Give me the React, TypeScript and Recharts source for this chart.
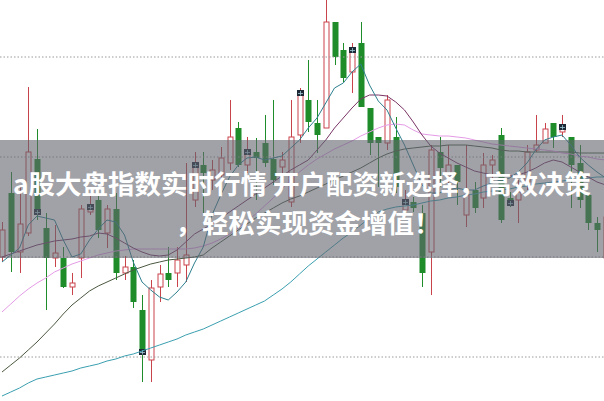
import React from 'react';
import { ComposedChart, Bar, Line, XAxis, YAxis, ReferenceLine } from 'recharts';

// candle prices, one per session
const open = [3100,3164,3105,3124,3198,3129,3099,3099,3070,3099,3145,3157,3124,3148,3084,3090,3047,2997,3070,3084,3084,3092,3157,3192,3177,3182,3194,3229,3192,3205,3214,3198,3190,3155,3222,3257,3234,3229,3335,3307,3285,3314,3249,3220,3214,3220,3147,3155,3144,3105,3205,3180,3192,3142,3167,3159,3192,3222,3159,3157,3175,3207,3214,3234,3225,3220,3194,3162,3134,3099];
const close = [3127,3105,3133,3205,3145,3099,3104,3070,3074,3148,3150,3127,3148,3084,3090,3055,3005,3069,3083,3077,3097,3102,3192,3184,3187,3199,3220,3192,3205,3199,3194,3177,3197,3220,3264,3235,3222,3335,3300,3279,3307,3250,3214,3214,3257,3170,3155,3149,3084,3207,3189,3192,3175,3162,3149,3192,3197,3137,3154,3165,3205,3212,3228,3220,3230,3192,3157,3134,3127,3140];
const high = [3135,3185,3172,3270,3228,3144,3132,3110,3084,3152,3164,3164,3152,3164,3101,3097,3062,3077,3092,3110,3110,3194,3205,3205,3197,3210,3257,3235,3220,3219,3242,3257,3205,3257,3269,3297,3257,3357,3335,3314,3314,3335,3249,3220,3262,3240,3167,3160,3152,3212,3220,3212,3192,3212,3175,3204,3202,3229,3165,3177,3212,3242,3234,3234,3242,3220,3212,3162,3140,3147];
const low = [3095,3085,3084,3121,3137,3047,3090,3069,3062,3079,3142,3119,3109,3077,3077,3049,2975,2975,3055,3070,3070,3075,3150,3144,3167,3162,3187,3190,3184,3157,3190,3172,3177,3150,3214,3225,3204,3229,3292,3275,3264,3250,3202,3170,3207,3164,3142,3145,3070,3062,3170,3172,3152,3130,3144,3149,3179,3134,3150,3134,3167,3205,3214,3209,3220,3149,3149,3127,3105,3097];

// moving averages
const ma5 = [3095,3102,3109,3132,3141,3139,3137,3117,3100,3103,3117,3128,3137,3135,3122,3095,3075,3067,3060,3057,3065,3075,3094,3110,3142,3162,3180,3192,3199,3200,3197,3199,3201,3209,3217,3229,3239,3254,3269,3274,3285,3293,3272,3256,3247,3229,3212,3192,3172,3164,3164,3167,3169,3167,3167,3171,3174,3177,3179,3185,3194,3207,3217,3220,3222,3212,3200,3192,3185,3179];
const ma10 = [3100,3103,3106,3109,3112,3114,3116,3117,3118,3120,3121,3124,3123,3119,3114,3109,3105,3102,3101,3102,3107,3115,3123,3128,3133,3139,3145,3151,3157,3163,3169,3175,3181,3187,3192,3197,3207,3217,3229,3239,3249,3258,3262,3262,3261,3255,3247,3235,3222,3211,3204,3199,3194,3190,3186,3184,3182,3181,3181,3182,3185,3189,3194,3197,3195,3190,3185,3180,3175,3172];
const ma20 = [3045,3053,3061,3068,3074,3079,3085,3089,3093,3096,3099,3102,3104,3106,3107,3108,3108,3108,3108,3108,3108,3108,3109,3111,3114,3118,3123,3129,3136,3143,3151,3159,3168,3177,3185,3192,3198,3203,3208,3212,3216,3221,3225,3229,3232,3233,3232,3227,3223,3222,3221,3221,3220,3219,3217,3215,3213,3212,3211,3210,3209,3208,3207,3206,3204,3203,3201,3200,3198,3197];
const ma30 = [2985,2992,2999,3007,3015,3024,3033,3043,3052,3059,3066,3071,3075,3079,3083,3087,3090,3093,3095,3097,3098,3099,3100,3102,3109,3115,3121,3127,3133,3139,3144,3149,3154,3158,3161,3165,3169,3173,3177,3181,3185,3189,3194,3199,3203,3206,3208,3209,3210,3211,3211,3212,3212,3212,3211,3210,3209,3207,3206,3206,3205,3205,3205,3205,3205,3205,3204,3204,3204,3204];
const ma60 = [2961,2965,2969,2974,2978,2980,2982,2984,2986,2989,2991,2993,2996,2998,3001,3003,3006,3009,3012,3015,3018,3022,3025,3028,3032,3036,3040,3044,3048,3052,3056,3062,3068,3075,3083,3091,3098,3105,3112,3119,3125,3132,3139,3145,3148,3150,3151,3152,3154,3156,3157,3159,3160,3162,3163,3165,3166,3167,3168,3170,3171,3173,3174,3175,3176,3177,3178,3179,3180,3180];

// sessions carrying the dark close marker
const markerIdx = [4,10,16,22,28,34,40,46,58,64];
const gridValues = [3000,3100,3200,3300];

const title1 = 'a股大盘指数实时行情 开户配资新选择，高效决策';
const title2 = '，轻松实现资金增值！';

const rows = open.map((o, i) => ({
  i, open: o, close: close[i], high: high[i], low: low[i],
  ma5: ma5[i], ma10: ma10[i], ma20: ma20[i], ma30: ma30[i], ma60: ma60[i],
}));

const RED = '#c9434a';
const GREEN = '#1f8c2a';

const Candle = (props: any) => {
  const { x, y, width, height, payload } = props;
  const { open: o, close: c, high: h, low: l, i } = payload;
  const top = Math.min(y, y + height);
  const hgt = Math.abs(height);
  const py = (v: number) => top + ((h - v) / (h - l)) * hgt;
  const cx = Math.round(x + width / 2) + 0.5;
  const bodyTop = py(Math.max(o, c));
  const bodyBot = py(Math.min(o, c));
  const up = c >= o;
  const bw = 5;
  const mark = markerIdx.includes(i);
  const my = py(c);
  return (
    <g>
      {up ? (
        <>
          <line x1={cx} x2={cx} y1={top} y2={bodyTop} stroke={RED} />
          <line x1={cx} x2={cx} y1={bodyBot} y2={top + hgt} stroke={RED} />
          <rect x={cx - bw / 2} y={bodyTop} width={bw} height={Math.max(bodyBot - bodyTop, 1)} fill="#fff" stroke={RED} />
        </>
      ) : (
        <>
          <line x1={cx} x2={cx} y1={top} y2={top + hgt} stroke={GREEN} />
          <rect x={cx - bw / 2 - 0.5} y={bodyTop} width={bw + 1} height={Math.max(bodyBot - bodyTop, 1.5)} fill={GREEN} />
        </>
      )}
      {mark && (
        <g>
          <rect x={cx - 3.5} y={my - 3} width={7} height={6} fill="#1d2a36" />
          <line x1={cx - 2.5} x2={cx + 2.5} y1={my + 0.5} y2={my + 0.5} stroke="#9ec9d6" strokeWidth={0.8} />
          <line x1={cx} x2={cx} y1={my - 2} y2={my + 2.5} stroke="#9ec9d6" strokeWidth={0.8} />
        </g>
      )}
    </g>
  );
};

const lineProps = { type: 'linear' as const, strokeWidth: 1, dot: false, activeDot: false, isAnimationActive: false, legendType: 'none' as const };

export default function App() {
  return (
    <div style={{ position: 'absolute', left: 0, top: 0, width: 604, height: 401, background: '#fff', overflow: 'hidden' }}>
      <ComposedChart width={612} height={401} data={rows} margin={{ top: 0, right: 0, bottom: 0, left: 0 }}>
        <XAxis type="number" dataKey="i" domain={[-2 / 8.75, 610 / 8.75]} hide />
        <YAxis type="number" domain={[2956, 3357]} allowDataOverflow hide />
        {gridValues.map((v) => (
          <ReferenceLine key={v} y={v} stroke="#9a9a9a" strokeDasharray="1.5 2" />
        ))}
        <Bar dataKey={(d: any) => [d.low, d.high]} barSize={5} shape={Candle} isAnimationActive={false} />
        <Line dataKey="ma60" stroke="#3a9fb0" {...lineProps} />
        <Line dataKey="ma30" stroke="#4a5840" {...lineProps} />
        <Line dataKey="ma20" stroke="#e49be6" {...lineProps} />
        <Line dataKey="ma10" stroke="#7a3466" {...lineProps} />
        <Line dataKey="ma5" stroke="#2d7f8e" {...lineProps} />
      </ComposedChart>
      <div style={{ position: 'absolute', left: 0, top: 140, width: 604, height: 118, background: 'rgba(96,100,110,0.6)' }} />
      <div style={{ position: 'absolute', left: 0, top: 163, width: 604, textAlign: 'center', color: '#fff', fontFamily: '"Noto Sans CJK SC", "Noto Sans", sans-serif', fontWeight: 700, fontSize: 26.5, lineHeight: '39px', whiteSpace: 'nowrap' }}>
        <div>{title1}</div>
        <div style={{ paddingLeft: 12 }}>{title2}</div>
      </div>
    </div>
  );
}
